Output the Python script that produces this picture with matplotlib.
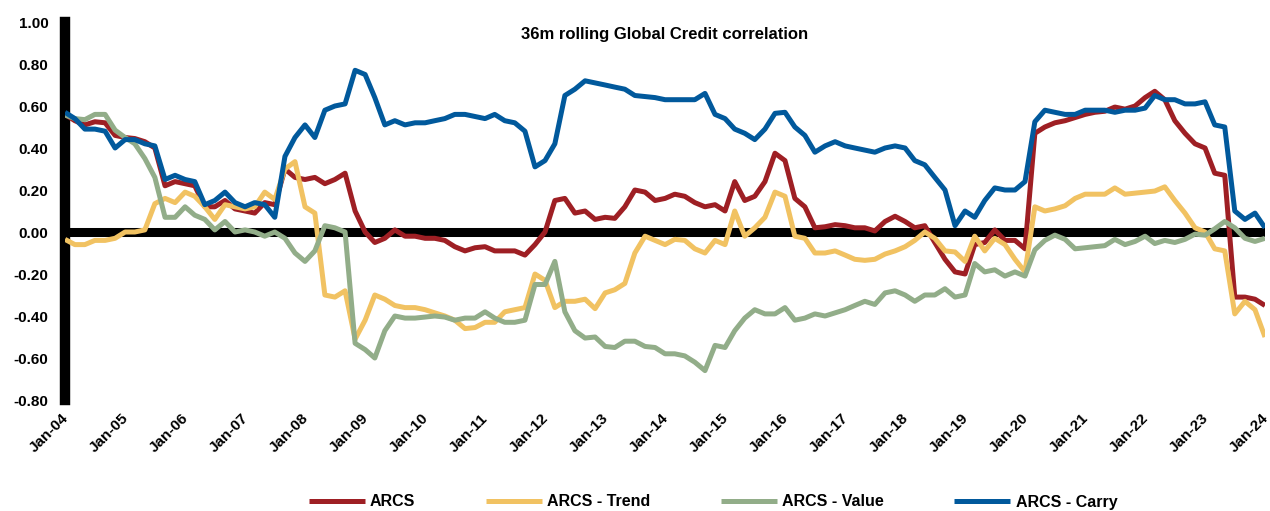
import numpy as np
import pandas as pd
import matplotlib
matplotlib.use("Agg")
import matplotlib.pyplot as plt
import matplotlib.dates as mdates
import matplotlib.transforms as mtransforms

plt.rcParams['font.family'] = ['Liberation Sans', 'DejaVu Sans']
plt.rcParams['font.weight'] = 'bold'

# bi-monthly observations, Jan-04 .. Jan-24
dates = pd.date_range('2004-01-01', '2024-01-01', freq='2MS')

arcs = [
    0.56, 0.53, 0.51, 0.525, 0.52, 0.46, 0.45, 0.445, 0.43, 0.40,
    0.22, 0.24, 0.23, 0.22, 0.12, 0.12, 0.15, 0.11, 0.10, 0.09,
    0.14, 0.13, 0.30, 0.26, 0.25, 0.26, 0.23, 0.25, 0.28, 0.10,
    0.00, -0.05, -0.03, 0.01, -0.02, -0.02, -0.03, -0.03, -0.04, -0.07,
    -0.09, -0.075, -0.07, -0.09, -0.09, -0.09, -0.11, -0.06, 0.00, 0.15,
    0.16, 0.09, 0.10, 0.06, 0.07, 0.065, 0.12, 0.20, 0.19, 0.15,
    0.16, 0.18, 0.17, 0.14, 0.12, 0.13, 0.10, 0.24, 0.15, 0.17,
    0.24, 0.375, 0.34, 0.16, 0.12, 0.02, 0.025, 0.035, 0.03, 0.02,
    0.02, 0.005, 0.05, 0.075, 0.05, 0.02, 0.03, -0.05, -0.13, -0.19,
    -0.20, -0.06, -0.05, 0.01, -0.04, -0.04, -0.08, 0.47, 0.50, 0.52,
    0.53, 0.545, 0.56, 0.57, 0.575, 0.595, 0.585, 0.60, 0.64, 0.67,
    0.63, 0.53, 0.47, 0.42, 0.40, 0.28, 0.27, -0.31, -0.31, -0.32,
    -0.35,
]

arcs_trend = [
    -0.035, -0.06, -0.06, -0.04, -0.04, -0.03, 0.00, 0.00, 0.01, 0.135,
    0.16, 0.14, 0.19, 0.17, 0.12, 0.06, 0.13, 0.12, 0.11, 0.12,
    0.19, 0.155, 0.30, 0.335, 0.12, 0.09, -0.30, -0.31, -0.28, -0.51,
    -0.42, -0.30, -0.32, -0.35, -0.36, -0.36, -0.37, -0.385, -0.40, -0.42,
    -0.46, -0.455, -0.43, -0.43, -0.38, -0.37, -0.36, -0.20, -0.23, -0.36,
    -0.33, -0.33, -0.32, -0.365, -0.29, -0.275, -0.245, -0.10, -0.02, -0.04,
    -0.06, -0.035, -0.04, -0.08, -0.10, -0.04, -0.06, 0.10, -0.02, 0.02,
    0.07, 0.19, 0.17, -0.02, -0.03, -0.10, -0.10, -0.09, -0.11, -0.13,
    -0.135, -0.13, -0.105, -0.09, -0.07, -0.04, 0.00, -0.03, -0.09, -0.095,
    -0.14, -0.02, -0.09, -0.03, -0.06, -0.13, -0.19, 0.12, 0.10, 0.11,
    0.125, 0.16, 0.18, 0.18, 0.18, 0.21, 0.18, 0.185, 0.19, 0.195,
    0.215, 0.15, 0.09, 0.02, 0.00, -0.08, -0.09, -0.39, -0.33, -0.37,
    -0.50,
]

arcs_value = [
    0.557, 0.54, 0.535, 0.56, 0.56, 0.485, 0.45, 0.42, 0.35, 0.26,
    0.07, 0.07, 0.12, 0.08, 0.06, 0.01, 0.05, 0.00, 0.01, 0.00,
    -0.02, 0.00, -0.03, -0.10, -0.14, -0.09, 0.03, 0.02, 0.00, -0.53,
    -0.56, -0.60, -0.47, -0.40, -0.41, -0.41, -0.405, -0.40, -0.405, -0.42,
    -0.41, -0.41, -0.38, -0.41, -0.43, -0.43, -0.42, -0.25, -0.25, -0.14,
    -0.38, -0.47, -0.505, -0.50, -0.545, -0.55, -0.52, -0.52, -0.545, -0.55,
    -0.58, -0.58, -0.59, -0.62, -0.66, -0.54, -0.55, -0.47, -0.41, -0.37,
    -0.39, -0.39, -0.36, -0.42, -0.41, -0.39, -0.40, -0.385, -0.37, -0.35,
    -0.33, -0.345, -0.29, -0.28, -0.30, -0.33, -0.30, -0.30, -0.27, -0.31,
    -0.30, -0.15, -0.19, -0.18, -0.21, -0.19, -0.21, -0.085, -0.04, -0.015,
    -0.035, -0.08, -0.075, -0.07, -0.065, -0.035, -0.06, -0.045, -0.02, -0.055,
    -0.04, -0.05, -0.035, -0.01, -0.015, 0.015, 0.05, 0.02, -0.03, -0.045,
    -0.03,
]

arcs_carry = [
    0.57, 0.54, 0.49, 0.49, 0.48, 0.40, 0.44, 0.44, 0.42, 0.41,
    0.25, 0.27, 0.25, 0.24, 0.13, 0.15, 0.19, 0.14, 0.12, 0.14,
    0.13, 0.07, 0.36, 0.45, 0.51, 0.45, 0.58, 0.60, 0.61, 0.77,
    0.75, 0.64, 0.51, 0.53, 0.51, 0.52, 0.52, 0.53, 0.54, 0.56,
    0.56, 0.55, 0.54, 0.56, 0.53, 0.52, 0.48, 0.31, 0.34, 0.42,
    0.65, 0.68, 0.72, 0.71, 0.70, 0.69, 0.68, 0.65, 0.645, 0.64,
    0.63, 0.63, 0.63, 0.63, 0.66, 0.56, 0.54, 0.49, 0.47, 0.44,
    0.49, 0.565, 0.57, 0.50, 0.46, 0.38, 0.41, 0.43, 0.41, 0.40,
    0.39, 0.38, 0.40, 0.41, 0.40, 0.34, 0.32, 0.26, 0.20, 0.03,
    0.10, 0.07, 0.15, 0.21, 0.20, 0.20, 0.24, 0.525, 0.58, 0.57,
    0.56, 0.56, 0.58, 0.58, 0.58, 0.57, 0.58, 0.58, 0.59, 0.65,
    0.63, 0.63, 0.61, 0.61, 0.62, 0.51, 0.50, 0.10, 0.06, 0.09,
    0.02,
]

series = [
    ('ARCS', arcs, '#9E1F24'),
    ('ARCS - Trend', arcs_trend, '#F1C262'),
    ('ARCS - Value', arcs_value, '#92AD89'),
    ('ARCS - Carry', arcs_carry, '#01599C'),
]

fig = plt.figure(figsize=(12.7, 5.11), dpi=100)
ax = fig.add_axes([65 / 1270, 1 - 400 / 511, 1200 / 1270, 378 / 511])

# thick zero line sits under the series
ax.axhline(0, color='black', lw=6.5, zorder=1)

handles = []
for name, vals, color in series:
    ln, = ax.plot(dates, vals, color=color, lw=3.6, label=name, zorder=3,
                  solid_joinstyle='round', solid_capstyle='butt')
    handles.append(ln)

ax.set_xlim(dates[0], dates[-1])
ax.set_ylim(-0.8, 1.0)
ax.set_yticks(np.arange(-0.8, 1.01, 0.2))
ax.yaxis.set_major_formatter(plt.FuncFormatter(
    lambda v, p: f'{0.0 if abs(v) < 1e-9 else v:.2f}'))
ax.xaxis.set_major_locator(mdates.YearLocator())
ax.xaxis.set_major_formatter(mdates.DateFormatter('%b-%y'))

for s in ['top', 'right', 'bottom']:
    ax.spines[s].set_visible(False)
ax.spines['left'].set_linewidth(7.5)
ax.spines['left'].set_color('black')

ax.tick_params(axis='y', length=0, pad=12, labelsize=11)
ax.tick_params(axis='x', length=0, pad=8, labelsize=11)
# nudge rotated date labels left so Jan-24 stays inside the figure
shift = mtransforms.ScaledTranslation(-0.04, 0, fig.dpi_scale_trans)
for lbl in ax.get_xticklabels():
    lbl.set_rotation(45)
    lbl.set_ha('right')
    lbl.set_va('top')
    lbl.set_rotation_mode('anchor')
    lbl.set_fontweight('bold')
    lbl.set_transform(lbl.get_transform() + shift)
for lbl in ax.get_yticklabels():
    lbl.set_fontweight('bold')

ax.text(0.5, 0.966, '36m rolling Global Credit correlation', transform=ax.transAxes,
        ha='center', va='center', fontsize=12, fontweight='bold')

fig.legend(handles=handles, loc='center', bbox_to_anchor=(713 / 1270, 1 - 502 / 511),
           ncol=4, frameon=False, handlelength=3.5, handletextpad=0.35,
           columnspacing=4.4, prop={'weight': 'bold', 'size': 11.5})

fig.savefig('out.png', dpi=100)
